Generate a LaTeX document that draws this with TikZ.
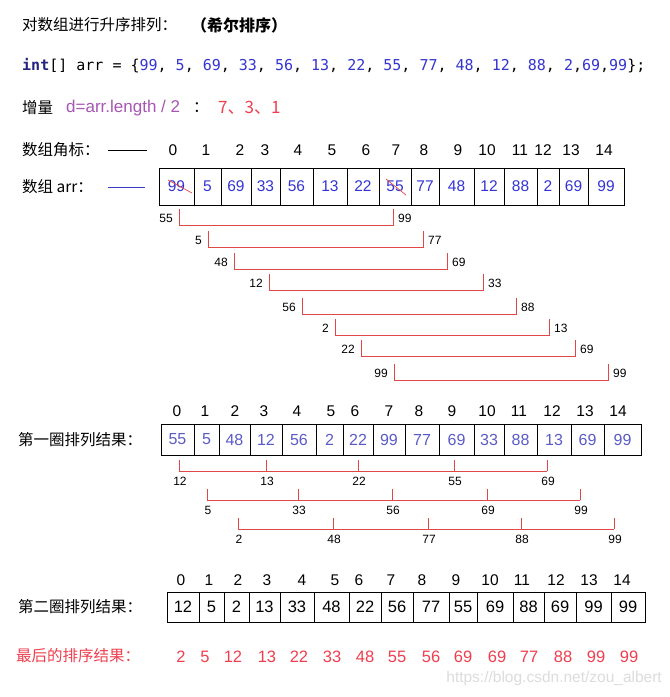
\documentclass[tikz,border=0pt]{standalone}
\usepackage{fontspec}
\setmainfont{Liberation Sans}
\newfontfamily\cjk{Noto Sans CJK SC}
\newfontfamily\codefont{DejaVu Sans Mono}
\definecolor{arrblue}{HTML}{3333D6}
\definecolor{rowblue}{HTML}{5B5BC8}
\definecolor{bred}{HTML}{E04848}
\definecolor{resred}{HTML}{EF3F4F}
\definecolor{lenpurple}{HTML}{A855B5}
\definecolor{codeblue}{HTML}{3535D0}
\definecolor{intnavy}{HTML}{24247F}
\definecolor{lineblue}{HTML}{3B3BBF}
\definecolor{markgray}{HTML}{DCDCDC}
\newcommand\numc[1]{\textcolor{codeblue}{#1}}

\begin{document}
\begin{tikzpicture}[x=1pt, y=-1pt,
  cell/.style = {draw, line width=1pt, inner sep=0pt},
  idx/.style = {inner sep=0pt, font=\fontsize{15.5}{18}\selectfont},
  lbl/.style = {inner sep=1pt, font=\fontsize{12}{14}\selectfont},
  brk/.style = {draw=bred, line width=1pt},
  cn/.style = {anchor=west, inner sep=0pt, font=\cjk\fontsize{15.5}{18}\selectfont}]
\fill[white] (0,0) rectangle (670,697);
\useasboundingbox (0,0) rectangle (670,697);

% header lines
\node[cn] (title) at (22,25) {对数组进行升序排列：};
\node[cn, font=\cjk\bfseries\fontsize{16}{18}\selectfont] (shell) at (191,25) {（希尔排序）};
\node[anchor=west, inner sep=0pt, font=\codefont\fontsize{15}{18}\selectfont] (code) at (22,66)
  {\textbf{\color{intnavy}int}[] arr = \{\numc{99}, \numc{5}, \numc{69}, \numc{33}, \numc{56}, \numc{13}, \numc{22}, \numc{55}, \numc{77}, \numc{48}, \numc{12}, \numc{88}, \numc{2},\numc{69},\numc{99}\};};
\node[cn] (inc) at (22,108) {增量};
\node[anchor=west, inner sep=0pt, text=lenpurple, font=\fontsize{17}{18}\selectfont] (len) at (66,108) {d=arr.length / 2};
\node[cn] (colon) at (193,108) {：};
\node[cn, text=resred, font=\cjk\fontsize{17}{18}\selectfont] (steps) at (218,108) {7、3、1};

% row labels
\node[cn] (idxlbl) at (22,150) {数组角标：};
\coordinate (ia) at (108,150);
\coordinate (ib) at (147,150);
\draw[line width=1pt] (ia) -- (ib);
\node[cn] (arrlbl) at (22,187) {数组 arr：};
\coordinate (ja) at (108,187);
\coordinate (jb) at (145,187);
\draw[lineblue, line width=1pt] (ja) -- (jb);
\node[cn] (first) at (18,440) {第一圈排列结果：};
\node[cn] (second) at (18,607) {第二圈排列结果：};
\node[cn, text=resred] (final) at (16,656) {最后的排序结果：};

% indices
\foreach \x [count=\i from 0] in {173,206,240,265,298,332,366,396,424,458,487,520,543,571,604}
  \node[idx] (i1-\i) at (\x,150) {\i};
\foreach \x [count=\i from 0] in {177,205,235,264,297,331,355,389,419,452,487,519,552,585,618}
  \node[idx] (i2-\i) at (\x,411) {\i};
\foreach \x [count=\i from 0] in {181,209,238,267,302,335,359,391,422,456,490,522,556,589,622}
  \node[idx] (i3-\i) at (\x,580) {\i};

% start array
\foreach \xa/\xb/\v [count=\i] in {159/194/99,194/221/5,221/251/69,251/280/33,280/313/56,313/347/13,347/379/22,379/411/55,411/439/77,439/474/48,474/504/12,504/537/88,537/559/2,559/588/69,588/624/99}
  \node[cell, text=arrblue, font=\fontsize{15.5}{18}\selectfont, minimum width={(\xb-\xa)*1pt}, minimum height=37pt] (a\i) at ({(\xa+\xb)/2},186.5) {\v};

% pairs, gap 7
\foreach \ty/\xl/\xr/\u/\w [count=\k] in {209/179/393/55/99,231/208/423/5/77,253/234/447/48/69,274/269/483/12/33,298/302/516/56/88,319/335/549/2/13,340/361/575/22/69,364/394/608/99/99}{
  \coordinate (p\k) at (\xl,\ty);
  \coordinate (q\k) at (\xr,\ty+16);
  \coordinate (s\k) at (\xr,\ty);
  \node[lbl, anchor=east] (bl\k) at (\xl-5,\ty+9) {\u};
  \node[lbl, anchor=west] (br\k) at (\xr+4,\ty+9) {\w};
}
\draw[brk] \foreach \k in {1,...,8} {(p\k) |- (q\k) -- (s\k)};

% after gap 7
\foreach \xa/\xb/\v [count=\i] in {161/194/55,194/219/5,219/250/48,250/282/12,282/316/56,316/343/2,343/373/22,373/405/99,405/439/77,439/474/69,474/504/33,504/537/88,537/571/13,571/604/69,604/641/99}
  \node[cell, text=rowblue, font=\fontsize{16}{18}\selectfont, minimum width={(\xb-\xa)*1pt}, minimum height=31pt] (b\i) at ({(\xa+\xb)/2},439.5) {\v};

% groups, gap 3
\foreach \ty/\xa/\xb/\vals [count=\k] in {460/179/547/{179/12,266/13,358/22,454/55,547/69},
    489/207/580/{207/5,298/33,392/56,487/69,580/99},
    518/238/614/{238/2,333/48,428/77,521/88,614/99}}{
  \coordinate (h\k a) at (\xa,\ty+11);
  \coordinate (h\k b) at (\xb,\ty+11);
  \foreach \x/\v [count=\j] in \vals {
    \coordinate (t\k-\j) at (\x,\ty);
    \coordinate (f\k-\j) at (\x,\ty+11);
    \node[lbl] (g\k-\j) at (\x+1,\ty+21) {\v};
  }
}
\draw[brk] \foreach \k in {1,2,3} {(h\k a) -- (h\k b)
  \foreach \j in {1,...,5} {(t\k-\j) -- (f\k-\j)}};

% after gap 3
\foreach \xa/\xb/\v [count=\i] in {167/199/12,199/224/5,224/249/2,249/280/13,280/314/33,314/349/48,349/381/22,381/413/56,413/449/77,449/477/55,477/513/69,513/544/88,544/576/69,576/611/99,611/645/99}
  \node[cell, font=\fontsize{16.5}{18}\selectfont, minimum width={(\xb-\xa)*1pt}, minimum height=30pt] (c\i) at ({(\xa+\xb)/2},607) {\v};

% struck values
\coordinate (x1) at (168,180);
\coordinate (x2) at (192,193);
\coordinate (x3) at (386,179);
\coordinate (x4) at (406,195);
\draw[bred, line width=0.7pt] (x1) -- (x2);
\draw[bred, line width=0.7pt] (x3) -- (x4);

% final result
\foreach \x/\v [count=\i] in {181/2,205/5,233/12,267/13,299/22,332/33,365/48,397/55,431/56,463/69,497/69,529/77,563/88,596/99,629/99}
  \node[idx, text=resred, font=\fontsize{16.5}{18}\selectfont] (e\i) at (\x,657) {\v};

\node[anchor=east, inner sep=0pt, text=markgray, font=\fontsize{15.5}{18}\selectfont] (mark) at (662,678) {https://blog.csdn.net/zou\_albert};
\end{tikzpicture}
\end{document}
